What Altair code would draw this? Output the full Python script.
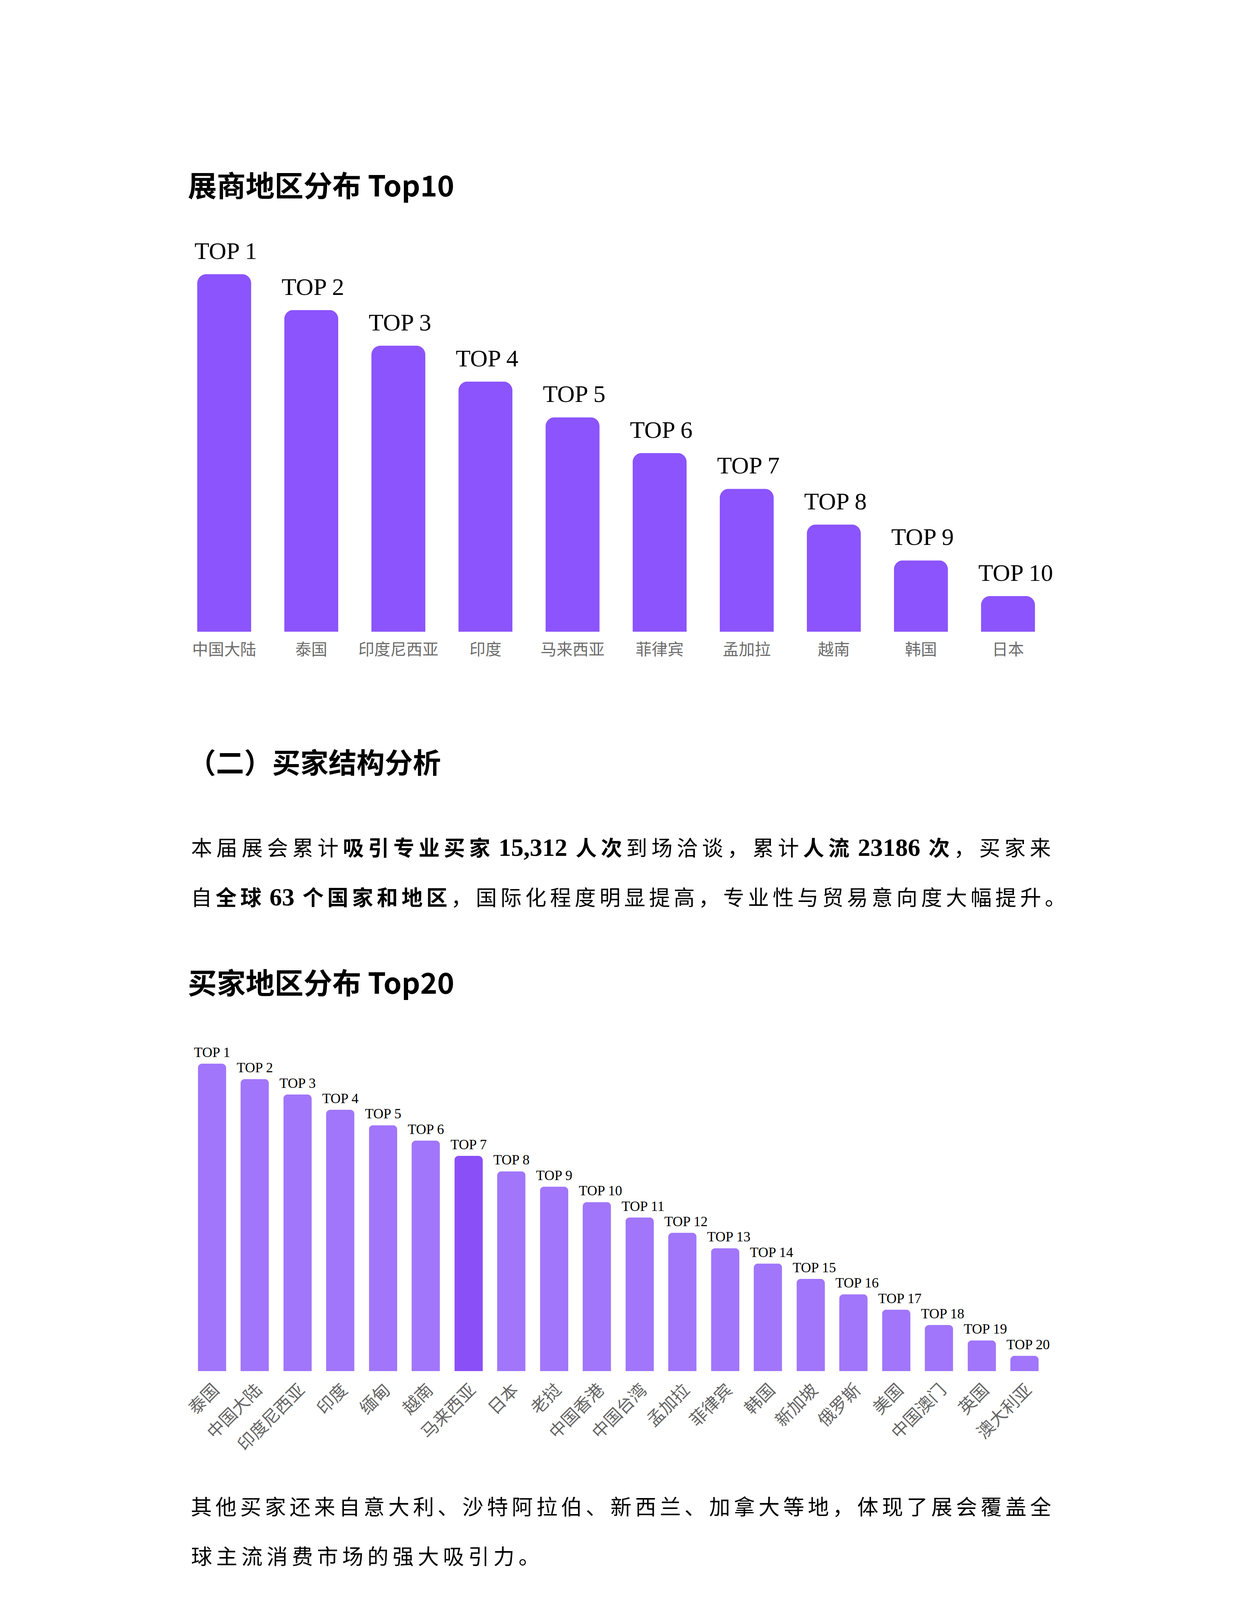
import altair as alt
import pandas as pd

# ---------------- data ----------------
exh_regions = ["中国大陆", "泰国", "印度尼西亚", "印度", "马来西亚", "菲律宾", "孟加拉", "越南", "韩国", "日本"]
exh_values = [10, 9, 8, 7, 6, 5, 4, 3, 2, 1]
exh_ranks = ["TOP 1", "TOP 2", "TOP 3", "TOP 4", "TOP 5", "TOP 6", "TOP 7", "TOP 8", "TOP 9", "TOP 10"]

buyer_regions = ["泰国", "中国大陆", "印度尼西亚", "印度", "缅甸", "越南", "马来西亚", "日本", "老挝", "中国香港",
                 "中国台湾", "孟加拉", "菲律宾", "韩国", "新加坡", "俄罗斯", "美国", "中国澳门", "英国", "澳大利亚"]
buyer_values = [20, 19, 18, 17, 16, 15, 14, 13, 12, 11, 10, 9, 8, 7, 6, 5, 4, 3, 2, 1]
buyer_ranks = ["TOP 1", "TOP 2", "TOP 3", "TOP 4", "TOP 5", "TOP 6", "TOP 7", "TOP 8", "TOP 9", "TOP 10",
               "TOP 11", "TOP 12", "TOP 13", "TOP 14", "TOP 15", "TOP 16", "TOP 17", "TOP 18", "TOP 19", "TOP 20"]
highlight_region = "马来西亚"

title1 = "展商地区分布 Top10"
heading = "（二）买家结构分析"
title2 = "买家地区分布 Top20"

para1_line1 = [("本届展会累计", False), ("吸引专业买家", True), (" 15,312 ", True), ("人次", True),
               ("到场洽谈，累计", False), ("人流", True), (" 23186 ", True), ("次", True), ("，买家来", False)]
para1_line2 = [("自", False), ("全球", True), (" 63 ", True), ("个国家和地区", True),
               ("，国际化程度明显提高，专业性与贸易意向度大幅提升。", False)]
para2_line1 = [("其他买家还来自意大利、沙特阿拉伯、新西兰、加拿大等地，体现了展会覆盖全", False)]
para2_line2 = [("球主流消费市场的强大吸引力。", False)]

# ---------------- layout ----------------
OFF = 8
W = 3175 - 2 * OFF
H = 4490 - 2 * OFF


def cv(v):
    return v - OFF


TITLE_FS = 74
HEAD_FS = 72
PARA_FS = 54
LAT_FS = 64
TEXT_X = 481
PARA_X = 484

rows = []
rows.append({"t": title1, "px": cv(TEXT_X), "py": cv(503), "fs": TITLE_FS, "kind": "sans_bold"})
rows.append({"t": heading, "px": cv(TEXT_X), "py": cv(1979), "fs": HEAD_FS, "kind": "sans_bold"})
rows.append({"t": title2, "px": cv(TEXT_X), "py": cv(2544), "fs": TITLE_FS, "kind": "sans_bold"})


def latin_width(s, fs):
    w = 0.0
    for ch in s:
        w += 0.5 if ch.isdigit() else 0.25
    return w * fs


def layout_line(segs, baseline, line_w=None):
    n_cjk = 0
    lat_w = 0.0
    for s, b in segs:
        if s.isascii():
            lat_w += latin_width(s, LAT_FS)
        else:
            n_cjk += len(s)
    adv = (line_w - lat_w) / n_cjk if line_w else 64.5
    x = PARA_X
    for s, b in segs:
        if s.isascii():
            lead = len(s) - len(s.lstrip())
            rows.append({"t": s.strip(), "px": cv(x + latin_width(" " * lead, LAT_FS)), "py": cv(baseline),
                         "fs": LAT_FS, "kind": "serif_bold" if b else "serif"})
            x += latin_width(s, LAT_FS)
        else:
            for ch in s:
                rows.append({"t": ch, "px": cv(x + (adv - PARA_FS) / 2), "py": cv(baseline),
                             "fs": PARA_FS, "kind": "sans_bold" if b else "sans"})
                x += adv


layout_line(para1_line1, 2191, 2212)
layout_line(para1_line2, 2318, 2250)
layout_line(para2_line1, 3877.5, 2212)
layout_line(para2_line2, 4004.5)

text_df = pd.DataFrame(rows)

# ---------------- chart 1 ----------------
df1 = pd.DataFrame({"region": exh_regions, "value": exh_values, "rank": exh_ranks, "zero": 0})
xs1 = alt.Scale(domain=exh_regions, range=[cv(505), cv(2650)], paddingInner=0.381, paddingOuter=0)
ys1 = alt.Scale(domain=[0, 10], range=[cv(1617.5), cv(702)], nice=False, zero=True)

base1 = alt.Chart(df1)
bars1 = base1.mark_bar(color="#8c54fc", cornerRadiusTopLeft=23, cornerRadiusTopRight=23).encode(
    x=alt.X("region:N", scale=xs1, axis=None, sort=exh_regions),
    y=alt.Y("value:Q", scale=ys1, axis=None),
)
top1 = base1.mark_text(font="Liberation Serif", fontSize=62, align="left", baseline="alphabetic",
                       color="#000000", xOffset=-7, yOffset=-39).encode(
    x=alt.X("region:N", scale=xs1, axis=None, sort=exh_regions, bandPosition=0),
    y=alt.Y("value:Q", scale=ys1, axis=None),
    text="rank:N",
)
cat1 = base1.mark_text(font="Noto Sans CJK SC", fontSize=41, align="center", baseline="alphabetic",
                       color="#6c6c6c", yOffset=59.5).encode(
    x=alt.X("region:N", scale=xs1, axis=None, sort=exh_regions),
    y=alt.Y("zero:Q", scale=ys1, axis=None),
    text="region:N",
)
chart1 = alt.layer(bars1, top1, cat1)

# ---------------- chart 2 ----------------
df2 = pd.DataFrame({"region": buyer_regions, "value": buyer_values, "rank": buyer_ranks, "zero": 0})
xs2 = alt.Scale(domain=buyer_regions, range=[cv(506.5), cv(2659.5)], paddingInner=0.338, paddingOuter=0)
ys2 = alt.Scale(domain=[0, 20], range=[cv(3510), cv(2723)], nice=False, zero=True)

base2 = alt.Chart(df2)
bars2 = base2.mark_bar(cornerRadiusTopLeft=11, cornerRadiusTopRight=11).encode(
    x=alt.X("region:N", scale=xs2, axis=None, sort=buyer_regions),
    y=alt.Y("value:Q", scale=ys2, axis=None),
    color=alt.condition(alt.datum.region == highlight_region, alt.value("#8b4ff8"), alt.value("#a176fa")),
)
top2 = base2.mark_text(font="Liberation Serif", fontSize=36, align="left", baseline="alphabetic",
                       color="#000000", xOffset=-10, yOffset=-17).encode(
    x=alt.X("region:N", scale=xs2, axis=None, sort=buyer_regions, bandPosition=0),
    y=alt.Y("value:Q", scale=ys2, axis=None),
    text="rank:N",
)
cat2 = base2.mark_text(font="Noto Sans CJK SC", fontSize=44, angle=315, align="right", baseline="middle",
                       color="#666666", xOffset=12, yOffset=42).encode(
    x=alt.X("region:N", scale=xs2, axis=None, sort=buyer_regions),
    y=alt.Y("zero:Q", scale=ys2, axis=None),
    text="region:N",
)
chart2 = alt.layer(bars2, top2, cat2)

# ---------------- text ----------------
tbase = alt.Chart(text_df)
tenc = dict(
    x=alt.X("px:Q", scale=None, axis=None),
    y=alt.Y("py:Q", scale=None, axis=None),
    size=alt.Size("fs:Q", scale=None, legend=None),
    text="t:N",
)
t_sans_bold = tbase.transform_filter(alt.datum.kind == "sans_bold").mark_text(
    font="Noto Sans CJK SC", fontWeight="bold", align="left", baseline="alphabetic", color="#000000").encode(**tenc)
t_sans = tbase.transform_filter(alt.datum.kind == "sans").mark_text(
    font="Noto Sans CJK SC", fontWeight="normal", align="left", baseline="alphabetic", color="#000000").encode(**tenc)
t_serif_bold = tbase.transform_filter(alt.datum.kind == "serif_bold").mark_text(
    font="Liberation Serif", fontWeight="bold", align="left", baseline="alphabetic", color="#000000").encode(**tenc)

chart = alt.layer(chart1, chart2, t_sans_bold, t_sans, t_serif_bold).resolve_scale(
    x="independent", y="independent", size="independent"
).properties(
    width=W, height=H, padding=0, autosize=alt.AutoSizeParams(type="none"), background="#ffffff"
).configure_view(strokeWidth=0)

chart.save("out.html", embed_options={"renderer": "svg", "actions": False})
